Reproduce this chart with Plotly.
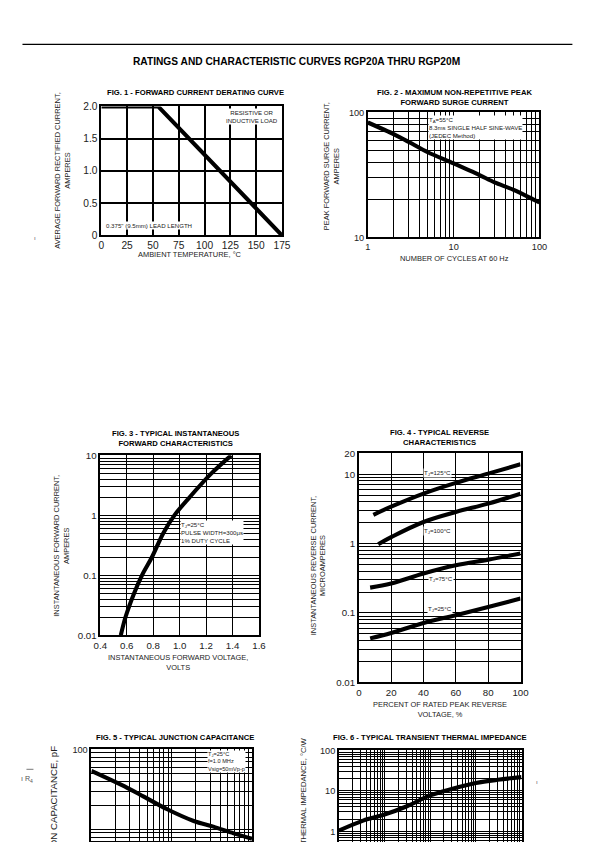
import plotly.graph_objects as go
import numpy as np

W, H = 595, 850

# ---------------- data ----------------
# Fig 1 - derating
f1_temp = [0, 55, 175]
f1_amp = [2.0, 2.0, 0.0]
f1_xticks = [0, 25, 50, 75, 100, 125, 150, 175]
f1_yticks = [0, 0.5, 1.0, 1.5, 2.0]
f1_ytext = ["0", "0.5", "1.0", "1.5", "2.0"]

# Fig 2 - surge current
f2_cycles = [1, 2, 3, 5, 10, 20, 30, 50, 100]
f2_amp = [83, 67, 58, 48, 39, 31.5, 27.5, 24, 19]

# Fig 3 - forward characteristics
f3_volt = [0.555, 0.59, 0.655, 0.715, 0.79, 0.875, 0.96, 1.075, 1.24, 1.39]
f3_amp = [0.01, 0.02, 0.05, 0.1, 0.2, 0.5, 1, 2, 5, 10]
f3_xticks = [0.4, 0.6, 0.8, 1.0, 1.2, 1.4, 1.6]
f3_xtext = ["0.4", "0.6", "0.8", "1.0", "1.2", "1.4", "1.6"]

# Fig 4 - reverse characteristics (percent of rated voltage, microamperes)
f4_pct_125 = [9, 20, 40, 60, 80, 100]
f4_125 = [2.6, 3.4, 5.25, 7.5, 10.2, 13.9]
f4_pct_100 = [12, 20, 40, 60, 80, 100]
f4_100 = [0.98, 1.24, 2.05, 2.85, 3.77, 5.25]
f4_pct_75 = [7, 20, 40, 60, 80, 100]
f4_75 = [0.232, 0.265, 0.37, 0.486, 0.587, 0.72]
f4_pct_25 = [7, 20, 40, 60, 80, 100]
f4_25 = [0.043, 0.0515, 0.0718, 0.093, 0.122, 0.161]
f4_xticks = [0, 20, 40, 60, 80, 100]

# Fig 5 - junction capacitance
f5_volt = [1, 2.8, 4.5, 8.8, 18.8, 33, 59, 100]
f5_cap = [53.6, 33, 25.6, 17.8, 12.7, 10.8, 8.9, 7.6]

# Fig 6 - transient thermal impedance
f6_t = [0.01, 0.034, 0.1, 0.3, 1, 3.1, 10, 30, 100]
f6_z = [1.04, 1.84, 2.59, 4.1, 7.7, 11.2, 15.5, 18.7, 21.8]


def log_grid(lo_exp, hi_exp):
    vals = []
    for e in range(lo_exp, hi_exp):
        for m in range(1, 10):
            vals.append(round(m * 10 ** e, 10))
    vals.append(round(10 ** hi_exp, 10))
    return vals


def log_text(vals, labels):
    return [labels.get(v, "") for v in vals]


# mapping from target picture pixels to figure paper coordinates
OX, SX, OY, SY = 6.5, 0.975, 5.6, 0.986
FS = 1 / 0.98


def X(px):
    return ((px - OX) / SX) / W


def Y(py):
    return 1 - ((py - OY) / SY) / H


BOTTOM = OY + SY * H  # picture pixel of the figure's bottom edge

FONT = "Liberation Sans, Arial, sans-serif"
TICKC = "#222"
fig = go.Figure()

LW = 4.1
fig.add_trace(go.Scatter(x=f1_temp, y=f1_amp, mode="lines", line=dict(color="black", width=LW), xaxis="x", yaxis="y"))
fig.add_trace(go.Scatter(x=f2_cycles, y=f2_amp, mode="lines", line=dict(color="black", width=LW, shape="spline", smoothing=0.8), xaxis="x2", yaxis="y2"))
fig.add_trace(go.Scatter(x=f3_volt, y=f3_amp, mode="lines", line=dict(color="black", width=LW, shape="spline"), xaxis="x3", yaxis="y3"))
for xs, ys in [(f4_pct_125, f4_125), (f4_pct_100, f4_100), (f4_pct_75, f4_75), (f4_pct_25, f4_25)]:
    fig.add_trace(go.Scatter(x=xs, y=ys, mode="lines", line=dict(color="black", width=LW, shape="spline"), xaxis="x4", yaxis="y4"))
fig.add_trace(go.Scatter(x=f5_volt, y=f5_cap, mode="lines", line=dict(color="black", width=LW, shape="spline"), xaxis="x5", yaxis="y5"))
fig.add_trace(go.Scatter(x=f6_t, y=f6_z, mode="lines", line=dict(color="black", width=LW, shape="spline"), xaxis="x6", yaxis="y6"))


def ax(domain, anchor, size=9, **kw):
    d = dict(domain=domain, anchor=anchor, showline=True, mirror=True, linecolor="black", linewidth=1.5,
             showgrid=True, gridcolor="black", gridwidth=1, zeroline=False, ticks="",
             tickfont=dict(family=FONT, size=size * FS, color=TICKC), fixedrange=True)
    d.update(kw)
    return d


def dom_x(a, b):
    return [X(a), X(b)]


def dom_y(top, bottom):
    return [max(0, Y(bottom)), Y(top)]


g2x = log_grid(0, 2)
g2y = log_grid(1, 2)
g3y = log_grid(-2, 1)
g4y = log_grid(-2, 1) + [20]
g5x = log_grid(0, 2)
g5y = log_grid(0, 2)
g6x = log_grid(-2, 2)
g6y = log_grid(-1, 2)

layout = dict(
    width=W, height=H, margin=dict(l=0, r=0, t=0, b=0), showlegend=False,
    paper_bgcolor="white", plot_bgcolor="white",
    xaxis=ax(dom_x(101, 282), "y", size=10, range=[0, 175], tickvals=f1_xticks, gridwidth=1.5),
    yaxis=ax(dom_y(106, 235), "x", size=10, range=[0, 2.0], tickvals=f1_yticks, ticktext=f1_ytext, gridwidth=1.5),
    xaxis2=ax(dom_x(368, 540), "y2", type="log", range=[0, 2], tickvals=g2x,
              ticktext=log_text(g2x, {1: "1", 10: "10", 100: "100"})),
    yaxis2=ax(dom_y(112, 237), "x2", type="log", range=[1, 2], tickvals=g2y,
              ticktext=log_text(g2y, {10: "10", 100: "100"})),
    xaxis3=ax(dom_x(100, 259), "y3", size=9.5, range=[0.4, 1.6], tickvals=f3_xticks, ticktext=f3_xtext),
    yaxis3=ax(dom_y(455, 635), "x3", size=9.5, type="log", range=[-2, 1], tickvals=g3y,
              ticktext=log_text(g3y, {0.01: "0.01", 0.1: "0.1", 1: "1", 10: "10"})),
    xaxis4=ax(dom_x(359, 521), "y4", size=9.5, range=[0, 100], tickvals=f4_xticks),
    yaxis4=ax(dom_y(453, 682), "x4", size=9.5, type="log", range=[-2, np.log10(20)], tickvals=g4y,
              ticktext=log_text(g4y, {0.01: "0.01", 0.1: "0.1", 1: "1", 10: "10", 20: "20"})),
    xaxis5=ax(dom_x(91, 252), "y5", type="log", range=[0, 2], tickvals=g5x, showticklabels=False),
    yaxis5=ax(dom_y(749, BOTTOM), "x5", type="log", range=[2 - (BOTTOM - 749) / 80, 2], tickvals=g5y,
              ticktext=log_text(g5y, {100: "100"})),
    xaxis6=ax(dom_x(339, 522), "y6", type="log", range=[-2, 2], tickvals=g6x, showticklabels=False),
    yaxis6=ax(dom_y(750, BOTTOM), "x6", type="log", range=[2 - (BOTTOM - 750) / 40.5, 2], tickvals=g6y,
              ticktext=log_text(g6y, {1: "1", 10: "10", 100: "100"})),
)
fig.update_layout(**layout)

ann = []


def text(x, y, s, size=7, bold=False, xanchor="center", yanchor="middle", angle=0, bg=None, align="center", color="#222"):
    if bold:
        s = "<b>" + s + "</b>"
    d = dict(xref="paper", yref="paper", x=X(x), y=Y(y), text=s, showarrow=False,
             font=dict(family=FONT, size=size * FS, color=color), xanchor=xanchor, yanchor=yanchor,
             textangle=angle, align=align)
    if bg:
        d["bgcolor"] = bg
        d["borderpad"] = 0
    ann.append(d)


# page title
text(297, 61, "RATINGS AND CHARACTERISTIC CURVES RGP20A THRU RGP20M", size=10, bold=True, color="black")

# figure titles
TS = 7.5
text(195, 92, "FIG. 1 - FORWARD CURRENT DERATING CURVE", size=TS, bold=True, color="black")
text(455, 97, "FIG. 2 - MAXIMUM NON-REPETITIVE PEAK<br>FORWARD SURGE CURRENT", size=TS, bold=True, color="black")
text(175, 438, "FIG. 3 - TYPICAL INSTANTANEOUS<br>FORWARD CHARACTERISTICS", size=TS, bold=True, color="black")
text(440, 437, "FIG. 4 - TYPICAL REVERSE<br>CHARACTERISTICS", size=TS, bold=True, color="black")
text(175, 737, "FIG. 5 - TYPICAL JUNCTION CAPACITANCE", size=TS, bold=True, color="black")
text(430, 737, "FIG. 6 - TYPICAL TRANSIENT THERMAL IMPEDANCE", size=TS, bold=True, color="black")

# axis titles
AS = 7.3
text(190, 254, "AMBIENT TEMPERATURE, °C", size=AS)
text(62, 170, "AVERAGE FORWARD RECTIFIED CURRENT,<br>AMPERES", size=AS, angle=-90)
text(455, 258, "NUMBER OF CYCLES AT 60 Hz", size=AS)
text(332, 166, "PEAK FORWARD SURGE CURRENT,<br>AMPERES", size=AS, angle=-90)
text(178, 662, "INSTANTANEOUS FORWARD VOLTAGE,<br>VOLTS", size=AS)
text(61, 545, "INSTANTANEOUS FORWARD CURRENT,<br>AMPERES", size=AS, angle=-90)
text(440, 709, "PERCENT OF RATED PEAK REVERSE<br>VOLTAGE, %", size=AS)
text(318, 565, "INSTANTANEOUS REVERSE CURRENT,<br>MICROAMPERES", size=AS, angle=-90)
text(53, 743, "JUNCTION CAPACITANCE, pF", size=9.5, angle=-90, yanchor="top")
text(303, 735, "TRANSIENT THERMAL IMPEDANCE, °C/W", size=7.5, angle=-90, yanchor="top")

# in-plot notes
text(252, 116, "RESISTIVE OR<br>INDUCTIVE LOAD", size=6, bg="white")
text(105, 225, "0.375\" (9.5mm) LEAD LENGTH", size=6, xanchor="left", bg="white")
text(428, 127, "T<sub>A</sub>=55°C<br>8.3ms SINGLE HALF SINE-WAVE<br>(JEDEC Method)", size=6, xanchor="left", align="left", bg="white")
text(180, 532, "T<sub>J</sub>=25°C<br>PULSE WIDTH=300μs<br>1% DUTY CYCLE", size=6, xanchor="left", align="left", bg="white")
text(438, 473, "T<sub>J</sub>=125°C", size=6, bg="white")
text(438, 531, "T<sub>J</sub>=100°C", size=6, bg="white")
text(441, 579, "T<sub>J</sub>=75°C", size=6, bg="white")
text(440, 609, "T<sub>J</sub>=25°C", size=6, bg="white")
text(207, 761, "T<sub>J</sub>=25°C<br>f=1.0 MHz<br>Vsig=50mVp-p", size=5.5, xanchor="left", align="left", bg="white")

# stray marks from the scanned page
text(35, 237, "ı", size=6, color="#555")
text(27, 779, "ı R<sub>4</sub>", size=7, color="#555")
text(538, 781, "ı", size=6, color="#555")

fig.update_layout(annotations=ann)

# header rule and stray bar
fig.update_layout(shapes=[
    dict(type="line", xref="paper", yref="paper", x0=X(22), x1=X(573), y0=Y(44), y1=Y(44),
         line=dict(color="black", width=1.2)),
    dict(type="line", xref="paper", yref="paper", x0=X(26), x1=X(33), y0=Y(769), y1=Y(769),
         line=dict(color="#555", width=0.8)),
])

fig.write_html("out.html", config={"displayModeBar": False},
               post_script="document.body.style.margin='0px';document.body.style.overflow='hidden';")
